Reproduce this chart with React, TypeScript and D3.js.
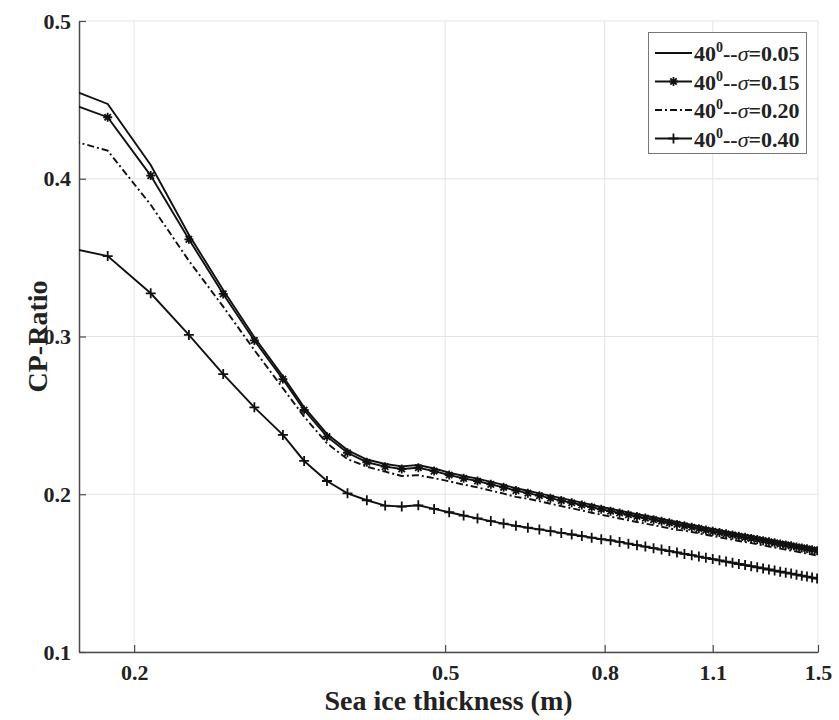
import * as d3 from 'd3';
import React, { useEffect, useRef } from 'react';

// sea ice thickness grid (m)
const thickness = [
    0.16, 0.185, 0.21, 0.235, 0.26, 0.285, 0.31, 0.33, 0.353, 0.375, 0.397, 0.419, 0.44, 0.462, 0.484,
    0.506, 0.528, 0.55, 0.572, 0.594, 0.616,
    0.638, 0.66, 0.682, 0.704, 0.726, 0.748, 0.77, 0.792,
    0.814, 0.836, 0.858, 0.88, 0.902, 0.924, 0.946, 0.968, 0.99, 1.012, 1.034, 1.056, 1.078, 1.1,
    1.122, 1.144, 1.166, 1.188, 1.21, 1.232, 1.254, 1.276, 1.298, 1.32, 1.342, 1.364, 1.386, 1.408, 1.43, 1.452, 1.474, 1.496
];

const sigma005 = [
    0.4596, 0.4474, 0.4087, 0.3645, 0.3295, 0.2995, 0.2748, 0.2552, 0.2382, 0.228, 0.222, 0.2192, 0.2177, 0.2185, 0.2163,
    0.2137, 0.2116, 0.2099, 0.2078, 0.2059, 0.2038,
    0.2022, 0.2006, 0.199, 0.1975, 0.1961, 0.1947, 0.1933, 0.192,
    0.1908, 0.1896, 0.1885, 0.1874, 0.1864, 0.1854, 0.1844, 0.1834, 0.1824, 0.1815, 0.1806, 0.1797, 0.1788, 0.178,
    0.1772, 0.1764, 0.1757, 0.1749, 0.1742, 0.1735, 0.1728, 0.1721, 0.1714, 0.1707, 0.17, 0.1694, 0.1688, 0.1681, 0.1675, 0.1669, 0.1663, 0.1657
];

const sigma015 = [
    0.4505, 0.439, 0.402, 0.3616, 0.327, 0.2975, 0.273, 0.2534, 0.2365, 0.2263, 0.2203, 0.2175, 0.216, 0.2168, 0.2147,
    0.2122, 0.2101, 0.2084, 0.2063, 0.2044, 0.2023,
    0.2007, 0.1991, 0.1975, 0.196, 0.1946, 0.1932, 0.1918, 0.1905,
    0.1893, 0.1881, 0.187, 0.1859, 0.1849, 0.1839, 0.1829, 0.1819, 0.1809, 0.18, 0.1791, 0.1782, 0.1773, 0.1765,
    0.1757, 0.1749, 0.1742, 0.1734, 0.1727, 0.172, 0.1713, 0.1706, 0.1699, 0.1692, 0.1685, 0.1679, 0.1673, 0.1666, 0.166, 0.1654, 0.1648, 0.1642
];

const sigma020 = [
    0.4266, 0.4178, 0.3835, 0.348, 0.3189, 0.2914, 0.2672, 0.2492, 0.2323, 0.2222, 0.2175, 0.2143, 0.2116, 0.2121, 0.2102,
    0.2082, 0.2061, 0.2044, 0.2023, 0.2004, 0.1983,
    0.1972, 0.1956, 0.194, 0.1925, 0.1911, 0.1897, 0.1883, 0.187,
    0.1858, 0.1846, 0.1835, 0.1824, 0.1814, 0.1804, 0.1794, 0.1784, 0.1774, 0.177, 0.1761, 0.1752, 0.1743, 0.1735,
    0.1727, 0.1719, 0.1712, 0.1704, 0.1697, 0.169, 0.1683, 0.1676, 0.1669, 0.1662, 0.1655, 0.1649, 0.1643, 0.1636, 0.163, 0.1624, 0.1618, 0.1612
];

const sigma040 = [
    0.3575, 0.351, 0.3274, 0.301, 0.2762, 0.2551, 0.2376, 0.2211, 0.2084, 0.2006, 0.1962, 0.1928, 0.1922, 0.193, 0.1907,
    0.1886, 0.1865, 0.1847, 0.183, 0.1814, 0.18,
    0.1788, 0.1777, 0.1766, 0.1755, 0.1745, 0.1735, 0.1725, 0.1715,
    0.1708, 0.1698, 0.1687, 0.1677, 0.1668, 0.1658, 0.1649, 0.164, 0.1631, 0.1622, 0.1614, 0.1605, 0.1597, 0.1589,
    0.1581, 0.1573, 0.1566, 0.1558, 0.1551, 0.1544, 0.1537, 0.153, 0.1523, 0.1516, 0.1509, 0.1503, 0.1497, 0.149, 0.1484, 0.1478, 0.1472, 0.1466
];

const sigmaLabels = ['0.05', '0.15', '0.20', '0.40'];
const xTicks = [0.2, 0.5, 0.8, 1.1, 1.5];
const yTicks = [0.1, 0.2, 0.3, 0.4, 0.5];

const FONT = '"Liberation Serif", "Times New Roman", serif';

export default function App() {
    const svgRef = useRef(null);

    useEffect(() => {
        document.body.style.margin = '0';
        if (!svgRef.current) return;
        const svg = d3.select(svgRef.current);
        svg.selectAll('*').remove();

        const left = 79, right = 818, top = 21, bottom = 652;

        const x = d3.scaleLog().domain([0.17, 1.5]).range([left, right]);
        const y = d3.scaleLinear().domain([0.1, 0.5]).range([bottom, top]);

        svg.append('defs').append('clipPath').attr('id', 'plotClip')
            .append('rect')
            .attr('x', left).attr('y', top - 10)
            .attr('width', right - left).attr('height', bottom - top + 20);

        // grid
        const grid = svg.append('g').attr('stroke', '#e4e4e4').attr('stroke-width', 1);
        grid.selectAll('.gx').data(xTicks).join('line')
            .attr('x1', d => x(d)).attr('x2', d => x(d))
            .attr('y1', top).attr('y2', bottom);
        grid.selectAll('.gy').data(yTicks).join('line')
            .attr('x1', left).attr('x2', right)
            .attr('y1', d => y(d)).attr('y2', d => y(d));

        // axes
        const xAxis = svg.append('g')
            .attr('transform', `translate(0,${bottom})`)
            .call(d3.axisBottom(x).tickValues(xTicks).tickSizeInner(-7).tickSizeOuter(0)
                .tickPadding(12).tickFormat(d3.format('.1f')));
        const yAxis = svg.append('g')
            .attr('transform', `translate(${left},0)`)
            .call(d3.axisLeft(y).tickValues(yTicks).tickSizeInner(-7).tickSizeOuter(0)
                .tickPadding(8).tickFormat(d3.format('.1f')));
        [xAxis, yAxis].forEach(g => {
            g.select('.domain').attr('stroke', '#4a4a4a').attr('stroke-width', 1.5);
            g.selectAll('.tick line').attr('stroke', '#4a4a4a').attr('stroke-width', 1.2);
            g.selectAll('.tick text')
                .attr('fill', '#222')
                .style('font-family', FONT)
                .style('font-size', '22px')
                .style('font-weight', 'bold');
        });

        // axis titles
        svg.append('text')
            .attr('x', (left + right) / 2).attr('y', 710)
            .attr('text-anchor', 'middle')
            .style('font-family', FONT).style('font-size', '28px').style('font-weight', 'bold')
            .attr('fill', '#222')
            .text('Sea ice thickness (m)');
        svg.append('text')
            .attr('transform', `translate(47,${(top + bottom) / 2}) rotate(-90)`)
            .attr('text-anchor', 'middle')
            .style('font-family', FONT).style('font-size', '28px').style('font-weight', 'bold')
            .attr('fill', '#222')
            .text('CP-Ratio');

        const asterisk = 'M-4.5,0H4.5M0,-4.5V4.5M-3.2,-3.2L3.2,3.2M-3.2,3.2L3.2,-3.2';
        const plus = 'M-5,0H5M0,-5V5';

        const series = [
            { label: sigmaLabels[0], values: sigma005, dash: null, marker: null },
            { label: sigmaLabels[1], values: sigma015, dash: null, marker: asterisk },
            { label: sigmaLabels[2], values: sigma020, dash: '7,3,2,3', marker: null },
            { label: sigmaLabels[3], values: sigma040, dash: null, marker: plus }
        ];

        const line = d3.line().x(d => x(d[0])).y(d => y(d[1]));
        const plot = svg.append('g').attr('clip-path', 'url(#plotClip)');

        series.forEach(s => {
            const pts = thickness.map((t, i) => [t, s.values[i]]);
            plot.append('path')
                .datum(pts)
                .attr('fill', 'none')
                .attr('stroke', '#111')
                .attr('stroke-width', 1.9)
                .attr('stroke-dasharray', s.dash)
                .attr('d', line);
            if (s.marker) {
                plot.append('g').selectAll('path')
                    .data(pts.filter(p => p[0] >= 0.17))
                    .join('path')
                    .attr('transform', d => `translate(${x(d[0])},${y(d[1])})`)
                    .attr('d', s.marker)
                    .attr('fill', 'none')
                    .attr('stroke', '#111')
                    .attr('stroke-width', 1.8);
            }
        });

        // legend
        const lg = svg.append('g');
        lg.append('rect')
            .attr('x', 648.5).attr('y', 32.5)
            .attr('width', 158).attr('height', 121)
            .attr('fill', 'white').attr('stroke', '#777').attr('stroke-width', 1);
        series.forEach((s, i) => {
            const ry = 53 + i * 28.5;
            lg.append('line')
                .attr('x1', 655).attr('x2', 692).attr('y1', ry).attr('y2', ry)
                .attr('stroke', '#111').attr('stroke-width', 1.9)
                .attr('stroke-dasharray', s.dash);
            if (s.marker) {
                lg.append('path')
                    .attr('transform', `translate(673.5,${ry})`)
                    .attr('d', s.marker)
                    .attr('fill', 'none').attr('stroke', '#111').attr('stroke-width', 1.8);
            }
            const t = lg.append('text')
                .attr('x', 694).attr('y', ry + 8)
                .style('font-family', FONT).style('font-size', '22px').style('font-weight', 'bold')
                .attr('fill', '#222');
            t.append('tspan').text('40');
            t.append('tspan').attr('dy', -9).style('font-size', '14px').text('0');
            t.append('tspan').attr('dy', 9).text('--');
            t.append('tspan').style('font-style', 'italic').style('font-weight', 'normal').text('σ');
            t.append('tspan').text('=' + s.label);
        });
    }, []);

    return (
        <svg ref={svgRef} width={839} height={720} style={{ display: 'block', background: 'white' }}></svg>
    );
}
